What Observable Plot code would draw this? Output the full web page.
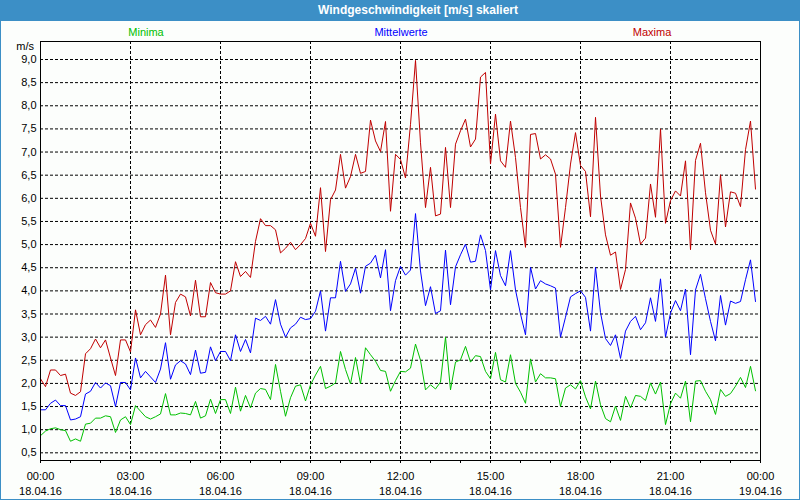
<!DOCTYPE html>
<html>
<head>
<meta charset="utf-8">
<script src="https://cdn.jsdelivr.net/npm/d3@7"></script>
<script src="https://cdn.jsdelivr.net/npm/@observablehq/plot@0.6"></script>
<style>
  html, body { margin: 0; padding: 0; background: #fcfefc; }
  #wrap { position: relative; width: 800px; height: 500px; overflow: hidden; background: #fcfefc; font-family: "Liberation Sans", Arial, sans-serif; }
  #title { position: absolute; left: 0; top: 0; width: 800px; height: 21px; background: #3c8fc6; }
  #title span { position: absolute; left: 418px; top: 3px; transform: translateX(-50%); color: #fff; font-weight: bold; font-size: 12px; white-space: nowrap; }
  .leg { position: absolute; top: 26px; font-size: 11px; transform: translateX(-50%); white-space: nowrap; }
  #unit { position: absolute; top: 40px; right: 766px; font-size: 11px; color: #000; }
  #chart { position: absolute; left: 0; top: 21px; }
  #border { position: absolute; left: 0; top: 0; width: 800px; height: 500px; box-sizing: border-box; border: 1px solid #3c8fc6; pointer-events: none; }
</style>
</head>
<body>
<div id="wrap">
  <div id="title"><span>Windgeschwindigkeit [m/s] skaliert</span></div>
  <div class="leg" style="left:146px;color:#00c000">Minima</div>
  <div class="leg" style="left:401px;color:#0000ff">Mittelwerte</div>
  <div class="leg" style="left:652px;color:#c00000">Maxima</div>
  <div id="unit">m/s</div>
  <div id="chart"></div>
  <div id="border"></div>
</div>
<script>
// 10-minute values, 18.04.16 00:00 – 23:50
const maxima = [2.1,1.93,2.29,2.29,2.17,2.2,1.79,1.74,1.82,2.64,2.75,2.96,2.77,2.94,2.55,2.17,2.94,2.94,2.68,3.59,
3.05,3.27,3.37,3.21,3.5,4.34,3.05,3.75,3.93,3.87,3.46,4.23,3.44,3.44,4.18,3.96,3.93,3.93,4.0,4.63,
4.31,4.42,4.29,5.07,5.56,5.41,5.41,5.32,4.82,4.92,5.05,4.89,5.0,5.13,5.46,5.18,6.23,4.85,5.97,6.18,
6.95,6.22,6.47,6.95,6.54,6.58,7.69,7.24,7.01,7.66,5.72,6.95,6.84,6.44,7.6,8.98,7.2,5.8,6.67,5.62,
5.66,7.1,5.8,7.17,7.46,7.71,7.11,7.28,8.62,8.72,6.74,7.82,6.81,6.67,7.67,6.88,5.8,4.94,7.38,7.4,
6.85,6.94,6.85,6.52,4.94,5.8,6.74,7.42,6.71,6.58,5.6,7.75,6.05,5.21,4.77,4.84,4.03,4.46,5.9,5.57,
5.01,5.14,6.31,5.59,7.5,5.46,5.95,6.16,6.05,6.81,4.89,6.82,7.19,6.12,5.31,5.01,6.51,5.38,6.14,6.11,
5.82,7.05,7.67,6.2];
const mittelwerte = [1.43,1.43,1.57,1.64,1.52,1.52,1.21,1.23,1.28,1.77,1.83,2.02,1.9,2.01,1.95,1.5,2.02,2.02,1.86,2.55,
2.12,2.26,2.14,2.02,2.31,2.88,2.09,2.4,2.49,2.42,2.19,2.72,2.22,2.24,2.79,2.49,2.69,2.69,2.49,3.05,
2.69,2.95,2.66,3.41,3.36,3.45,3.28,3.81,3.28,3.0,3.2,3.28,3.43,3.38,3.4,3.56,4.0,3.13,3.85,3.85,
4.64,3.99,4.15,4.49,3.95,4.53,4.6,4.77,4.28,4.89,3.57,4.22,4.53,4.34,4.45,5.67,4.43,3.68,4.09,3.51,
3.57,4.88,3.7,4.52,4.78,5.01,4.62,4.64,5.21,4.87,4.02,4.87,4.33,4.11,4.87,4.02,3.5,3.05,4.51,4.04,
4.22,4.15,4.11,4.06,3.0,3.43,3.87,3.94,4.0,3.86,3.13,4.51,3.53,2.97,2.82,3.05,2.54,3.13,3.34,3.45,
3.16,3.31,3.85,3.34,4.26,3.0,3.52,3.79,3.57,4.04,2.62,4.02,4.36,3.83,3.34,2.92,3.9,3.26,3.78,3.73,
3.77,4.24,4.67,3.77];
const minima = [0.87,0.97,1.02,1.04,1.0,0.98,0.75,0.8,0.75,1.12,1.14,1.25,1.25,1.3,1.28,0.94,1.21,1.28,1.11,1.52,
1.4,1.28,1.23,1.28,1.34,1.78,1.32,1.32,1.36,1.35,1.32,1.61,1.25,1.3,1.66,1.35,1.65,1.65,1.35,1.92,
1.4,1.74,1.47,1.79,1.89,1.87,1.65,2.41,1.83,1.29,1.69,1.94,1.97,1.62,1.97,2.18,2.37,1.89,1.94,2.01,
2.69,2.3,1.99,2.56,1.99,2.77,2.62,2.48,2.28,2.26,1.83,2.06,2.26,2.25,2.33,2.85,2.5,1.86,1.97,1.88,
2.03,3.0,1.86,2.46,2.51,2.8,2.46,2.6,2.58,2.26,2.1,2.67,2.08,2.03,2.62,2.0,1.81,1.57,2.53,2.03,
2.21,2.12,2.12,2.1,1.5,1.9,1.97,1.88,2.06,1.71,1.45,2.05,1.54,1.24,1.17,1.51,1.2,1.72,1.47,1.74,
1.72,1.63,2.01,1.77,2.03,1.11,1.56,1.79,1.68,2.05,1.17,2.05,2.06,1.83,1.65,1.33,1.87,1.72,1.78,1.94,
2.13,1.91,2.37,1.84];

const yTicks = [0.5,1,1.5,2,2.5,3,3.5,4,4.5,5,5.5,6,6.5,7,7.5,8,8.5,9];
const xTickLabels = ["00:00\n18.04.16","03:00\n18.04.16","06:00\n18.04.16","09:00\n18.04.16","12:00\n18.04.16",
                     "15:00\n18.04.16","18:00\n18.04.16","21:00\n18.04.16","00:00\n19.04.16"];

const start = Date.UTC(2016, 3, 18, 0, 0);
const t = i => new Date(start + i * 10 * 60000);
const majorTicks = d3.range(9).map(k => new Date(start + k * 3 * 3600000));
const hourTicks = d3.range(25).map(k => new Date(start + k * 3600000));
const innerMajor = majorTicks.slice(1, 8);

const rows = (arr, s) => arr.map((v, i) => ({time: t(i), value: v, series: s}));
const data = [...rows(minima, "Minima"), ...rows(mittelwerte, "Mittelwerte"), ...rows(maxima, "Maxima")];

const chart = Plot.plot({
  width: 800,
  height: 479,
  marginLeft: 40,
  marginRight: 40,
  marginTop: 20,
  marginBottom: 40,
  style: {fontFamily: "Liberation Sans, Arial, sans-serif", fontSize: "11px", background: "transparent", color: "#000"},
  x: {type: "utc", domain: [new Date(start), new Date(start + 24 * 3600000)]},
  y: {domain: [0.334, 9.389]},
  color: {domain: ["Minima", "Mittelwerte", "Maxima"], range: ["#00c000", "#0000ff", "#c00000"]},
  marks: [
    Plot.gridY(yTicks, {stroke: "#000", strokeOpacity: 1, strokeDasharray: "3,2"}),
    Plot.gridX(innerMajor, {stroke: "#000", strokeOpacity: 1, strokeDasharray: "3,2"}),
    Plot.axisY(yTicks, {tickSize: 0, tickPadding: 4, label: null, tickFormat: d => d.toFixed(1).replace(".", ",")}),
    Plot.axisX(hourTicks, {tickSize: 3, tickFormat: () => "", label: null}),
    Plot.axisX(majorTicks, {tickSize: 0, tickPadding: 9, label: null, lineHeight: 1.35,
      tickFormat: (d, i) => xTickLabels[i]}),
    Plot.line(data, {x: "time", y: "value", z: "series", stroke: "series", strokeWidth: 1, strokeLinejoin: "miter"}),
    Plot.frame({stroke: "#000", strokeWidth: 1})
  ]
});
document.getElementById("chart").appendChild(chart);
</script>
</body>
</html>
